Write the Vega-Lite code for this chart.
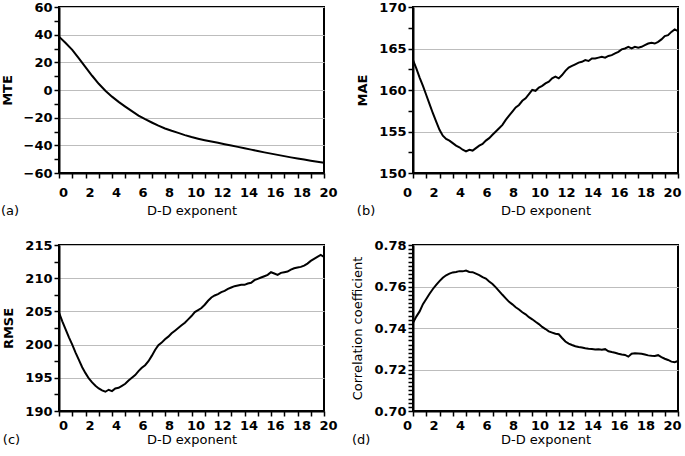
{
  "$schema": "https://vega.github.io/schema/vega-lite/v6.json",
  "background": "white",
  "padding": {"left": 0, "top": 0, "right": 10, "bottom": 0},
  "columns": 2,
  "spacing": {"row": 19, "column": 11},
  "config": {
    "font": "DejaVu Sans",
    "view": {"stroke": "black", "strokeWidth": 2},
    "axis": {
      "ticks": true, "tickOpacity": 1,
      "labelFont": "DejaVu Sans", "labelFontSize": 13, "labelFontWeight": "bold", "labelColor": "black",
      "titleFont": "DejaVu Sans", "titleFontSize": 13, "titleFontWeight": "normal", "titleColor": "black",
      "domainColor": "black", "domainWidth": 2, "tickColor": "black", "tickWidth": 1.5, "tickSize": 5,
      "gridColor": "#bdbdbd", "gridWidth": 1, "labelOverlap": false
    },
    "axisX": {"grid": false, "labelPadding": 8, "titlePadding": 5, "labelFlush": false},
    "axisY": {"labelPadding": 2, "titlePadding": 9},
    "title": {"font": "DejaVu Sans", "fontSize": 13, "fontWeight": "normal", "color": "black", "orient": "bottom", "anchor": "start", "frame": "bounds", "offset": -12},
    "line": {"color": "black", "strokeWidth": 2}
  },
  "datasets": {
    "mte": [
      {"x":0,"y":38.6},{"x":0.5,"y":34.0},{"x":1,"y":29.0},{"x":1.5,"y":22.8},{"x":2,"y":16.5},{"x":2.5,"y":10.3},{"x":3,"y":4.5},{"x":3.5,"y":-0.5},{"x":4,"y":-4.8},{"x":4.5,"y":-8.6},{"x":5,"y":-12.0},{"x":5.5,"y":-15.3},{"x":6,"y":-18.5},{"x":6.5,"y":-21.1},{"x":7,"y":-23.5},{"x":7.5,"y":-25.8},{"x":8,"y":-27.8},{"x":8.5,"y":-29.5},{"x":9,"y":-31.0},{"x":9.5,"y":-32.6},{"x":10,"y":-34.0},{"x":10.5,"y":-35.2},{"x":11,"y":-36.3},{"x":11.5,"y":-37.3},{"x":12,"y":-38.2},{"x":12.5,"y":-39.2},{"x":13,"y":-40.1},{"x":13.5,"y":-41.1},{"x":14,"y":-42.1},{"x":14.5,"y":-43.1},{"x":15,"y":-44.1},{"x":15.5,"y":-45.1},{"x":16,"y":-46.0},{"x":16.5,"y":-46.9},{"x":17,"y":-47.8},{"x":17.5,"y":-48.7},{"x":18,"y":-49.5},{"x":18.5,"y":-50.3},{"x":19,"y":-51.1},{"x":19.5,"y":-51.9},{"x":20,"y":-52.6}
    ],
    "mae": [
      {"x":0,"y":163.6},{"x":0.25,"y":162.6},{"x":0.5,"y":161.5},{"x":0.75,"y":160.5},{"x":1,"y":159.4},{"x":1.25,"y":158.3},{"x":1.5,"y":157.2},{"x":1.75,"y":156.2},{"x":2,"y":155.2},{"x":2.25,"y":154.5},{"x":2.5,"y":154.1},{"x":2.75,"y":153.9},{"x":3,"y":153.6},{"x":3.25,"y":153.3},{"x":3.5,"y":153.1},{"x":3.75,"y":152.8},{"x":4,"y":152.6},{"x":4.25,"y":152.8},{"x":4.5,"y":152.7},{"x":4.75,"y":153.0},{"x":5,"y":153.3},{"x":5.25,"y":153.5},{"x":5.5,"y":153.9},{"x":5.75,"y":154.2},{"x":6,"y":154.6},{"x":6.25,"y":155.0},{"x":6.5,"y":155.4},{"x":6.75,"y":155.8},{"x":7,"y":156.4},{"x":7.25,"y":156.9},{"x":7.5,"y":157.4},{"x":7.75,"y":157.9},{"x":8,"y":158.2},{"x":8.25,"y":158.7},{"x":8.5,"y":159.0},{"x":8.75,"y":159.5},{"x":9,"y":160.0},{"x":9.25,"y":159.9},{"x":9.5,"y":160.3},{"x":9.75,"y":160.5},{"x":10,"y":160.8},{"x":10.25,"y":161.0},{"x":10.5,"y":161.4},{"x":10.75,"y":161.6},{"x":11,"y":161.4},{"x":11.25,"y":161.8},{"x":11.5,"y":162.3},{"x":11.75,"y":162.7},{"x":12,"y":162.9},{"x":12.25,"y":163.1},{"x":12.5,"y":163.3},{"x":12.75,"y":163.4},{"x":13,"y":163.6},{"x":13.25,"y":163.5},{"x":13.5,"y":163.8},{"x":13.75,"y":163.8},{"x":14,"y":163.9},{"x":14.25,"y":164.0},{"x":14.5,"y":163.9},{"x":14.75,"y":164.1},{"x":15,"y":164.2},{"x":15.25,"y":164.4},{"x":15.5,"y":164.6},{"x":15.75,"y":164.9},{"x":16,"y":165.0},{"x":16.25,"y":165.2},{"x":16.5,"y":165.0},{"x":16.75,"y":165.2},{"x":17,"y":165.1},{"x":17.25,"y":165.2},{"x":17.5,"y":165.4},{"x":17.75,"y":165.6},{"x":18,"y":165.7},{"x":18.25,"y":165.6},{"x":18.5,"y":165.8},{"x":18.75,"y":166.1},{"x":19,"y":166.5},{"x":19.25,"y":166.6},{"x":19.5,"y":167.0},{"x":19.75,"y":167.3},{"x":20,"y":167.1}
    ],
    "rmse": [
      {"x":0,"y":204.8},{"x":0.25,"y":203.5},{"x":0.5,"y":202.3},{"x":0.75,"y":201.1},{"x":1,"y":200.0},{"x":1.25,"y":198.8},{"x":1.5,"y":197.7},{"x":1.75,"y":196.6},{"x":2,"y":195.7},{"x":2.25,"y":194.9},{"x":2.5,"y":194.3},{"x":2.75,"y":193.8},{"x":3,"y":193.4},{"x":3.25,"y":193.1},{"x":3.5,"y":192.9},{"x":3.75,"y":193.2},{"x":4,"y":193.0},{"x":4.25,"y":193.4},{"x":4.5,"y":193.5},{"x":4.75,"y":193.8},{"x":5,"y":194.1},{"x":5.25,"y":194.6},{"x":5.5,"y":195.0},{"x":5.75,"y":195.4},{"x":6,"y":196.0},{"x":6.25,"y":196.5},{"x":6.5,"y":196.9},{"x":6.75,"y":197.5},{"x":7,"y":198.3},{"x":7.25,"y":199.2},{"x":7.5,"y":199.9},{"x":7.75,"y":200.3},{"x":8,"y":200.8},{"x":8.25,"y":201.2},{"x":8.5,"y":201.7},{"x":8.75,"y":202.1},{"x":9,"y":202.5},{"x":9.25,"y":202.9},{"x":9.5,"y":203.3},{"x":9.75,"y":203.8},{"x":10,"y":204.3},{"x":10.25,"y":204.9},{"x":10.5,"y":205.2},{"x":10.75,"y":205.5},{"x":11,"y":206.0},{"x":11.25,"y":206.6},{"x":11.5,"y":207.1},{"x":11.75,"y":207.4},{"x":12,"y":207.6},{"x":12.25,"y":207.9},{"x":12.5,"y":208.1},{"x":12.75,"y":208.4},{"x":13,"y":208.6},{"x":13.25,"y":208.8},{"x":13.5,"y":208.9},{"x":13.75,"y":209.0},{"x":14,"y":209.0},{"x":14.25,"y":209.2},{"x":14.5,"y":209.3},{"x":14.75,"y":209.7},{"x":15,"y":209.9},{"x":15.25,"y":210.1},{"x":15.5,"y":210.3},{"x":15.75,"y":210.5},{"x":16,"y":210.9},{"x":16.25,"y":210.7},{"x":16.5,"y":210.5},{"x":16.75,"y":210.8},{"x":17,"y":210.9},{"x":17.25,"y":211.0},{"x":17.5,"y":211.3},{"x":17.75,"y":211.5},{"x":18,"y":211.6},{"x":18.25,"y":211.7},{"x":18.5,"y":211.9},{"x":18.75,"y":212.2},{"x":19,"y":212.6},{"x":19.25,"y":212.9},{"x":19.5,"y":213.2},{"x":19.75,"y":213.5},{"x":20,"y":213.2}
    ],
    "cc": [
      {"x":0,"y":0.7425},{"x":0.25,"y":0.7455},{"x":0.5,"y":0.7480},{"x":0.75,"y":0.7515},{"x":1,"y":0.7540},{"x":1.25,"y":0.7565},{"x":1.5,"y":0.7588},{"x":1.75,"y":0.7608},{"x":2,"y":0.7626},{"x":2.25,"y":0.7642},{"x":2.5,"y":0.7654},{"x":2.75,"y":0.7662},{"x":3,"y":0.7668},{"x":3.25,"y":0.7670},{"x":3.5,"y":0.7674},{"x":3.75,"y":0.7673},{"x":4,"y":0.7677},{"x":4.25,"y":0.7670},{"x":4.5,"y":0.7669},{"x":4.75,"y":0.7662},{"x":5,"y":0.7655},{"x":5.25,"y":0.7645},{"x":5.5,"y":0.7638},{"x":5.75,"y":0.7624},{"x":6,"y":0.7612},{"x":6.25,"y":0.7596},{"x":6.5,"y":0.7578},{"x":6.75,"y":0.7560},{"x":7,"y":0.7543},{"x":7.25,"y":0.7526},{"x":7.5,"y":0.7514},{"x":7.75,"y":0.7500},{"x":8,"y":0.7489},{"x":8.25,"y":0.7476},{"x":8.5,"y":0.7466},{"x":8.75,"y":0.7452},{"x":9,"y":0.7442},{"x":9.25,"y":0.7430},{"x":9.5,"y":0.7419},{"x":9.75,"y":0.7405},{"x":10,"y":0.7395},{"x":10.25,"y":0.7384},{"x":10.5,"y":0.7378},{"x":10.75,"y":0.7372},{"x":11,"y":0.7370},{"x":11.25,"y":0.7352},{"x":11.5,"y":0.7335},{"x":11.75,"y":0.7325},{"x":12,"y":0.7318},{"x":12.25,"y":0.7312},{"x":12.5,"y":0.7308},{"x":12.75,"y":0.7306},{"x":13,"y":0.7302},{"x":13.25,"y":0.7300},{"x":13.5,"y":0.7299},{"x":13.75,"y":0.7296},{"x":14,"y":0.7297},{"x":14.25,"y":0.7295},{"x":14.5,"y":0.7298},{"x":14.75,"y":0.7288},{"x":15,"y":0.7284},{"x":15.25,"y":0.7281},{"x":15.5,"y":0.7276},{"x":15.75,"y":0.7272},{"x":16,"y":0.7270},{"x":16.25,"y":0.7262},{"x":16.5,"y":0.7276},{"x":16.75,"y":0.7278},{"x":17,"y":0.7277},{"x":17.25,"y":0.7276},{"x":17.5,"y":0.7272},{"x":17.75,"y":0.7268},{"x":18,"y":0.7266},{"x":18.25,"y":0.7265},{"x":18.5,"y":0.7269},{"x":18.75,"y":0.7260},{"x":19,"y":0.7252},{"x":19.25,"y":0.7246},{"x":19.5,"y":0.7238},{"x":19.75,"y":0.7235},{"x":20,"y":0.7241}
    ]
  },
  "concat": [
    {
      "data": {"name": "mte"}, "title": "(a)", "width": 265, "height": 166,
      "mark": {"type": "line"},
      "encoding": {
        "x": {"field": "x", "type": "quantitative", "scale": {"domain": [0, 20], "nice": false},
          "axis": {"title": "D-D exponent", "values": [0,1,2,3,4,5,6,7,8,9,10,11,12,13,14,15,16,17,18,19,20], "labelExpr": "datum.value % 2 == 0 ? datum.label : ''", "labelOffset": 4}},
        "y": {"field": "y", "type": "quantitative", "scale": {"domain": [-60, 60], "nice": false},
          "axis": {"title": "MTE", "titleFontWeight": "bold", "values": [-60,-50,-40,-30,-20,-10,0,10,20,30,40,50,60], "labelExpr": "datum.value % 20 == 0 ? datum.label : ''",
            "gridColor": {"condition": {"test": "datum.value % 20 == 0", "value": "#bdbdbd"}, "value": "transparent"}}}
      }
    },
    {
      "data": {"name": "mae"}, "title": "(b)", "width": 265, "height": 166,
      "mark": {"type": "line"},
      "encoding": {
        "x": {"field": "x", "type": "quantitative", "scale": {"domain": [0, 20], "nice": false},
          "axis": {"title": "D-D exponent", "values": [0,1,2,3,4,5,6,7,8,9,10,11,12,13,14,15,16,17,18,19,20], "labelExpr": "datum.value % 2 == 0 ? datum.label : ''", "labelOffset": -6}},
        "y": {"field": "y", "type": "quantitative", "scale": {"domain": [150, 170], "nice": false},
          "axis": {"title": "MAE", "titleFontWeight": "bold", "values": [150,152.5,155,157.5,160,162.5,165,167.5,170], "labelExpr": "datum.value % 5 == 0 ? datum.label : ''",
            "gridColor": {"condition": {"test": "datum.value % 5 == 0", "value": "#bdbdbd"}, "value": "transparent"}}}
      }
    },
    {
      "data": {"name": "rmse"}, "title": "(c)", "width": 265, "height": 166,
      "mark": {"type": "line"},
      "encoding": {
        "x": {"field": "x", "type": "quantitative", "scale": {"domain": [0, 20], "nice": false},
          "axis": {"title": "D-D exponent", "labelPadding": 3, "titlePadding": 1, "values": [0,1,2,3,4,5,6,7,8,9,10,11,12,13,14,15,16,17,18,19,20], "labelExpr": "datum.value % 2 == 0 ? datum.label : ''", "labelOffset": 4}},
        "y": {"field": "y", "type": "quantitative", "scale": {"domain": [190, 215], "nice": false},
          "axis": {"title": "RMSE", "titleFontWeight": "bold", "values": [190,192.5,195,197.5,200,202.5,205,207.5,210,212.5,215], "labelExpr": "datum.value % 5 == 0 ? datum.label : ''",
            "gridColor": {"condition": {"test": "datum.value % 5 == 0", "value": "#bdbdbd"}, "value": "transparent"}}}
      }
    },
    {
      "data": {"name": "cc"}, "title": "(d)", "width": 265, "height": 166,
      "mark": {"type": "line"},
      "encoding": {
        "x": {"field": "x", "type": "quantitative", "scale": {"domain": [0, 20], "nice": false},
          "axis": {"title": "D-D exponent", "labelPadding": 3, "titlePadding": 1, "values": [0,1,2,3,4,5,6,7,8,9,10,11,12,13,14,15,16,17,18,19,20], "labelExpr": "datum.value % 2 == 0 ? datum.label : ''", "labelOffset": -6}},
        "y": {"field": "y", "type": "quantitative", "scale": {"domain": [0.7, 0.78], "nice": false},
          "axis": {"title": "Correlation coefficient", "values": [0.7,0.702,0.704,0.706,0.708,0.71,0.712,0.714,0.716,0.718,0.72,0.722,0.724,0.726,0.728,0.73,0.732,0.734,0.736,0.738,0.74,0.742,0.744,0.746,0.748,0.75,0.752,0.754,0.756,0.758,0.76,0.762,0.764,0.766,0.768,0.77,0.772,0.774,0.776,0.778,0.78],
            "labelExpr": "round(datum.value * 1000) % 20 == 0 ? format(datum.value, '.2f') : ''",
            "gridColor": {"condition": {"test": "round(datum.value * 1000) % 20 == 0", "value": "#bdbdbd"}, "value": "transparent"}}}
      }
    }
  ]
}
